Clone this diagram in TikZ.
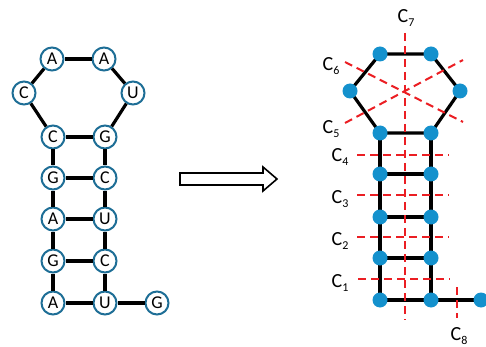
\documentclass[tikz,border=0pt]{standalone}
\usepackage{fontspec}
\setmainfont{Carlito}
\definecolor{ringblue}{RGB}{30,110,150}
\definecolor{dotblue}{RGB}{20,145,205}
\definecolor{cutred}{RGB}{235,30,35}
\newcommand{\cl}[1]{C\raisebox{-0.35ex}{\fontsize{12}{12}\selectfont #1}}
\begin{document}
\begin{tikzpicture}[x=1pt,y=-1pt,
  base/.style={circle,draw=ringblue,line width=2pt,fill=white,minimum size=23pt,inner sep=0pt,font=\fontsize{18}{18}\selectfont},
  dot/.style={circle,fill=dotblue,minimum size=15pt,inner sep=0pt},
  bond/.style={line width=3.2pt,black},
  cut/.style={cutred,line width=2pt,dash pattern=on 8pt off 5pt},
  clab/.style={font=\fontsize{20}{20}\selectfont,inner sep=0pt}]
\useasboundingbox (0,0) rectangle (486,347);
% left structure
\node[base] (a1) at (52,59) {A};
\node[base] (a2) at (104,59) {A};
\node[base] (c1) at (24,93) {C};
\node[base] (u1) at (133,93) {U};
\node[base] (c2) at (53,137) {C};
\node[base] (g1) at (105,137) {G};
\node[base] (g2) at (53,178) {G};
\node[base] (c3) at (105,178) {C};
\node[base] (a3) at (53,219) {A};
\node[base] (u2) at (105,219) {U};
\node[base] (g3) at (53,261) {G};
\node[base] (c4) at (105,261) {C};
\node[base] (a4) at (53,303) {A};
\node[base] (u3) at (105,303) {U};
\node[base] (g4) at (157,303) {G};
\draw[bond] (a1) -- (a2);
\draw[bond] (a2) -- (u1);
\draw[bond] (u1) -- (g1);
\draw[bond] (c1) -- (a1);
\draw[bond] (c1) -- (c2);
\draw[bond] (c2) -- (g1);
\draw[bond] (c2) -- (g2);
\draw[bond] (g1) -- (c3);
\draw[bond] (g2) -- (c3);
\draw[bond] (g2) -- (a3);
\draw[bond] (c3) -- (u2);
\draw[bond] (a3) -- (u2);
\draw[bond] (a3) -- (g3);
\draw[bond] (u2) -- (c4);
\draw[bond] (g3) -- (c4);
\draw[bond] (g3) -- (a4);
\draw[bond] (c4) -- (u3);
\draw[bond] (a4) -- (u3);
\draw[bond] (u3) -- (g4);
% arrow
\draw[line width=1.6pt,fill=white,line join=miter]
  (180,173) -- (263,173) -- (263,167) -- (277,179) -- (263,191) -- (263,185) -- (180,185) -- cycle;
% right structure
\coordinate (r1) at (380,54);
\coordinate (r2) at (431,54);
\coordinate (r3) at (350,91);
\coordinate (r4) at (460,91);
\coordinate (r5) at (380,133);
\coordinate (r6) at (431,133);
\coordinate (r7) at (380,174);
\coordinate (r8) at (431,174);
\coordinate (r9) at (380,217);
\coordinate (r10) at (431,217);
\coordinate (r11) at (380,258);
\coordinate (r12) at (431,258);
\coordinate (r13) at (380,300);
\coordinate (r14) at (431,300);
\coordinate (r15) at (481,300);
\draw[bond] (r1) -- (r2) -- (r4) -- (r6) -- (r5) -- (r3) -- cycle;
\draw[bond] (r5) -- (r13) -- (r14) -- (r15);
\draw[bond] (r6) -- (r14);
\draw[bond] (r7) -- (r8);
\draw[bond] (r9) -- (r10);
\draw[bond] (r11) -- (r12);
% cut lines
\coordinate (c7t) at (405,33);
\coordinate (c7b) at (405,320);
\draw[cut] (c7t) -- (c7b);
\coordinate (c8t) at (457,287);
\coordinate (c8b) at (457,318);
\draw[cut] (c8t) -- (c8b);
\coordinate (c4l) at (357,155); \coordinate (c4r) at (449,155);
\coordinate (c3l) at (357,195); \coordinate (c3r) at (449,195);
\coordinate (c2l) at (357,237); \coordinate (c2r) at (449,237);
\coordinate (c1l) at (358,279); \coordinate (c1r) at (450,279);
\draw[cut] (c4l) -- (c4r);
\draw[cut] (c3l) -- (c3r);
\draw[cut] (c2l) -- (c2r);
\draw[cut] (c1l) -- (c1r);
\coordinate (c6a) at (345,62); \coordinate (c6b) at (463,122);
\coordinate (c5a) at (345,123); \coordinate (c5b) at (463,60);
\draw[cut] (c6a) -- (c6b);
\draw[cut] (c5a) -- (c5b);
% dots
\foreach \p in {r1,r2,r3,r4,r5,r6,r7,r8,r9,r10,r11,r12,r13,r14,r15}
  \node[dot] (d\p) at (\p) {};
% labels
\node[clab] (lc7) at (406,18) {\cl{7}};
\node[clab] (lc6) at (331,66) {\cl{6}};
\node[clab] (lc5) at (331,129) {\cl{5}};
\node[clab] (lc4) at (340,157) {\cl{4}};
\node[clab] (lc3) at (340,199) {\cl{3}};
\node[clab] (lc2) at (340,241) {\cl{2}};
\node[clab] (lc1) at (340,283) {\cl{1}};
\node[clab] (lc8) at (459,336) {\cl{8}};
\end{tikzpicture}
\end{document}
